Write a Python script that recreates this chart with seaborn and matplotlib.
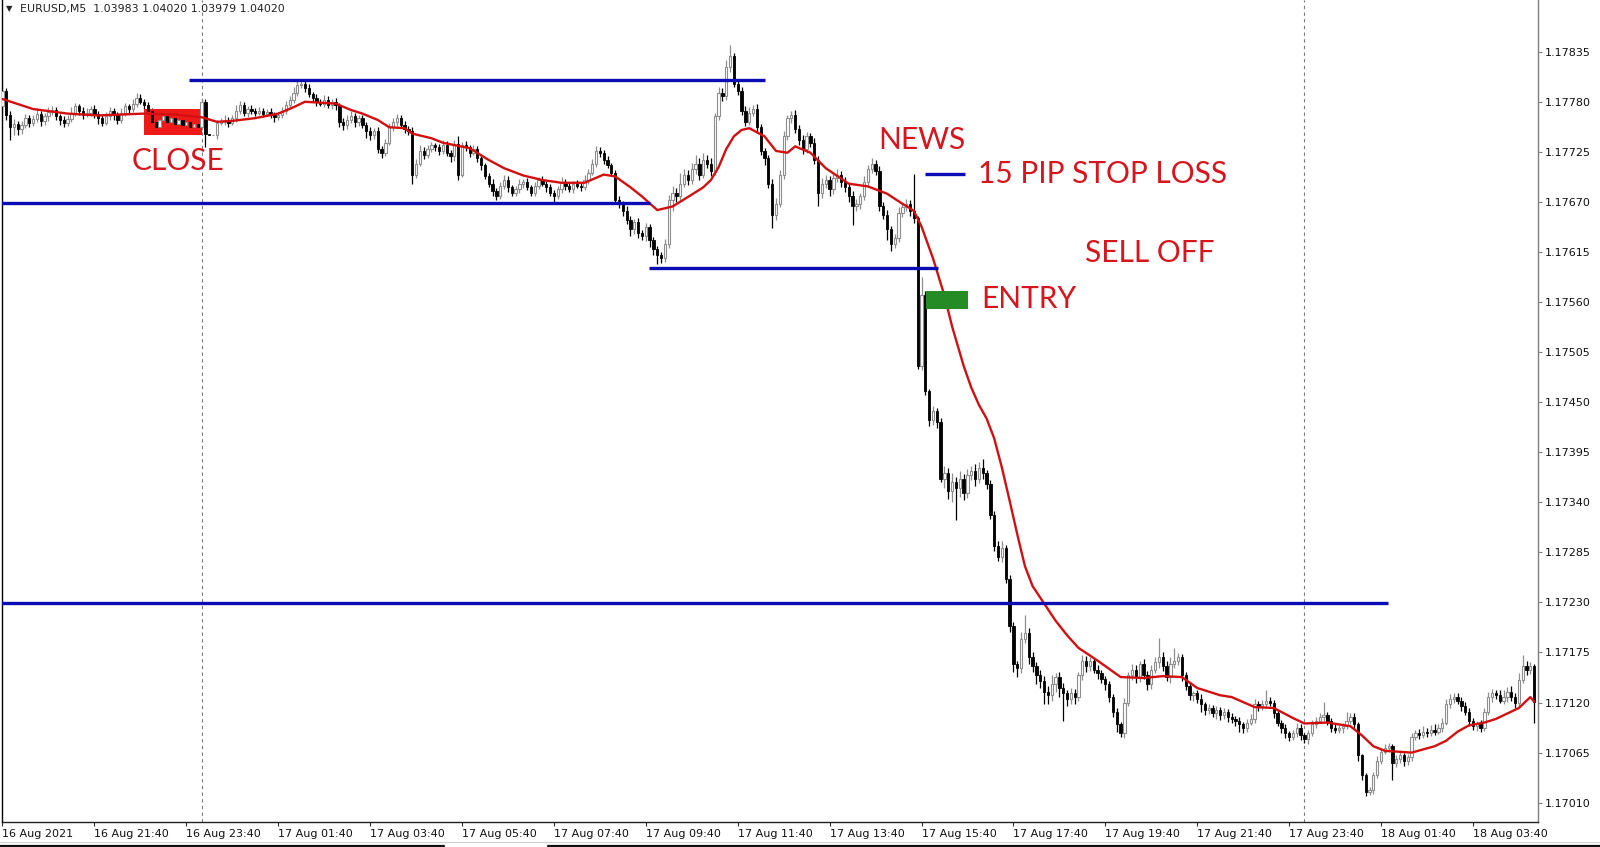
import numpy as np
import matplotlib
matplotlib.use("Agg")
import matplotlib.pyplot as plt
from matplotlib.lines import Line2D
from matplotlib.patches import Rectangle
import seaborn as sns

# ---------------- data (prices in points of 0.00001 above 1.17000) ----------------
BASE = 1.17000
PT = 0.00001
OPEN_FIRST = 775

CLOSE_PTS = [
    792, 766, 752, 756, 750, 755, 762, 757, 761, 767, 759, 764, 769, 771, 764, 760, 757, 761, 768, 775,
    770, 766, 768, 772, 767, 762, 757, 764, 770, 765, 760, 768, 775, 772, 778, 784, 780, 776, 770, 758,
    752, 760, 764, 758, 762, 756, 760, 754, 758, 752, 756, 752, 780, 745, 743, 743, 757, 758, 760, 757,
    762, 770, 776, 768, 772, 770, 768, 770, 767, 769, 766, 763, 766, 770, 776, 782, 790, 798, 800, 795,
    788, 784, 780, 778, 782, 776, 780, 776, 758, 754, 760, 764, 758, 762, 755, 748, 744, 748, 728, 724,
    735, 752, 758, 762, 755, 750, 748, 700, 712, 726, 722, 728, 732, 730, 726, 733, 724, 720, 734, 700,
    732, 730, 724, 728, 718, 710, 698, 690, 682, 676, 688, 694, 686, 680, 684, 690, 692, 686, 680, 688,
    694, 690, 686, 680, 676, 684, 692, 688, 684, 690, 688, 686, 694, 702, 712, 726, 724, 716, 710, 702,
    672, 668, 660, 650, 640, 648, 636, 632, 642, 628, 618, 612, 608, 624, 672, 680, 676, 690, 700, 694,
    706, 712, 700, 716, 712, 704, 764, 790, 786, 818, 830, 800, 792, 770, 758, 768, 772, 752, 726, 718,
    690, 656, 668, 700, 742, 762, 766, 750, 738, 728, 742, 735, 716, 680, 690, 694, 684, 696, 700, 692,
    686, 676, 665, 668, 676, 692, 706, 712, 704, 666, 656, 640, 624, 630, 658, 664, 668, 660, 652, 490,
    568, 462, 430, 440, 428, 366, 372, 352, 362, 356, 366, 350, 370, 374, 366, 378, 372, 360, 326, 292,
    280, 290, 256, 204, 162, 158, 190, 196, 170, 160, 150, 144, 132, 128, 140, 148, 136, 130, 124, 130,
    126, 150, 166, 160, 166, 156, 152, 146, 140, 126, 110, 96, 86, 120, 150, 156, 148, 162, 150, 140,
    156, 164, 170, 160, 148, 162, 166, 170, 150, 138, 128, 130, 124, 118, 112, 114, 108, 112, 106, 110,
    104, 102, 100, 96, 92, 98, 102, 118, 116, 118, 122, 120, 108, 98, 92, 86, 82, 86, 92, 84,
    80, 86, 96, 100, 104, 106, 100, 92, 90, 92, 94, 100, 104, 96, 62, 40, 22, 24, 40, 56,
    66, 70, 72, 54, 58, 62, 56, 60, 82, 86, 84, 88, 86, 90, 88, 92, 98, 118, 124, 126,
    122, 116, 110, 100, 94, 96, 92, 110, 126, 130, 128, 122, 126, 132, 126, 120, 145, 160, 156, 160,
    121,
]

UPPER_WICK_PTS = [
    11, 3, 4, 5, 3, 4, 5, 3, 4, 6, 3, 4, 5, 4, 3, 3, 4, 5, 6, 4,
    3, 4, 5, 3, 4, 3, 4, 5, 4, 3, 4, 5, 4, 3, 5, 6, 4, 3, 4, 3,
    3, 4, 3, 4, 3, 4, 3, 3, 4, 3, 4, 3, 4, 3, 0, 0, 3, 4, 5, 3,
    4, 6, 5, 4, 3, 4, 3, 4, 3, 3, 4, 3, 3, 4, 5, 4, 6, 5, 3, 4,
    4, 3, 4, 3, 5, 4, 3, 4, 3, 4, 5, 6, 4, 3, 4, 3, 4, 3, 4, 3,
    4, 5, 4, 5, 3, 4, 3, 4, 5, 6, 4, 5, 4, 3, 4, 5, 4, 3, 4, 8,
    4, 5, 3, 4, 3, 4, 3, 4, 5, 3, 4, 5, 4, 3, 4, 5, 3, 4, 3, 4,
    3, 4, 3, 4, 3, 4, 5, 3, 4, 3, 4, 3, 5, 4, 5, 5, 4, 3, 4, 3,
    3, 4, 3, 5, 4, 3, 4, 3, 5, 4, 3, 4, 3, 5, 6, 8, 5, 12, 6, 5,
    7, 10, 6, 8, 5, 6, 4, 6, 5, 8, 12, 4, 5, 4, 5, 6, 4, 5, 4, 3,
    4, 5, 6, 5, 6, 4, 4, 5, 4, 6, 5, 4, 5, 4, 6, 5, 4, 5, 6, 4,
    5, 4, 6, 5, 4, 6, 5, 6, 4, 5, 4, 5, 4, 5, 6, 5, 5, 4, 41, 3,
    20, 4, 3, 6, 4, 5, 8, 6, 10, 6, 8, 5, 7, 6, 8, 6, 10, 4, 5, 4,
    6, 8, 3, 4, 5, 4, 8, 20, 6, 5, 4, 6, 5, 6, 10, 5, 6, 5, 4, 6,
    5, 4, 6, 5, 4, 3, 5, 4, 3, 4, 3, 4, 3, 5, 4, 6, 5, 4, 6, 5,
    5, 6, 21, 5, 6, 8, 14, 4, 3, 4, 5, 3, 4, 5, 3, 4, 3, 4, 3, 4,
    3, 4, 3, 4, 3, 4, 5, 6, 4, 5, 12, 4, 3, 4, 3, 4, 3, 4, 5, 4,
    3, 4, 5, 4, 5, 15, 4, 3, 4, 3, 4, 10, 5, 4, 3, 2, 3, 3, 4, 5,
    4, 5, 4, 3, 4, 5, 3, 4, 5, 4, 5, 6, 4, 5, 6, 4, 5, 6, 5, 4,
    5, 4, 5, 4, 3, 4, 5, 4, 6, 5, 4, 6, 8, 5, 6, 5, 8, 12, 6, 5,
    2,
]

LOWER_WICK_PTS = [
    6, 6, 14, 8, 6, 5, 4, 5, 4, 3, 6, 4, 5, 3, 4, 6, 5, 4, 3, 4,
    4, 5, 3, 4, 5, 6, 4, 3, 4, 5, 4, 3, 4, 5, 3, 4, 3, 4, 5, 6,
    4, 3, 4, 5, 3, 4, 5, 3, 4, 3, 4, 5, 3, 15, 0, 0, 4, 3, 4, 5,
    3, 4, 3, 4, 5, 3, 4, 3, 4, 3, 4, 5, 3, 4, 3, 4, 3, 4, 3, 4,
    3, 4, 5, 3, 4, 3, 4, 5, 6, 5, 4, 3, 6, 5, 4, 8, 6, 5, 4, 6,
    4, 3, 4, 5, 3, 4, 5, 10, 4, 3, 5, 4, 3, 4, 5, 3, 4, 6, 5, 6,
    3, 4, 5, 3, 4, 5, 3, 4, 5, 4, 3, 4, 5, 4, 3, 4, 5, 3, 4, 3,
    4, 3, 5, 4, 6, 3, 4, 5, 3, 4, 3, 4, 3, 4, 3, 4, 5, 4, 3, 4,
    4, 5, 6, 4, 8, 5, 6, 4, 5, 8, 6, 10, 5, 4, 5, 12, 6, 5, 4, 5,
    4, 5, 6, 4, 5, 6, 4, 4, 5, 4, 5, 4, 5, 4, 5, 4, 4, 6, 5, 8,
    5, 15, 6, 4, 5, 4, 5, 4, 6, 5, 4, 5, 4, 15, 6, 5, 8, 5, 4, 6,
    5, 6, 20, 5, 6, 4, 5, 4, 5, 6, 5, 12, 8, 5, 4, 5, 4, 6, 5, 4,
    5, 4, 6, 5, 6, 4, 10, 8, 12, 35, 10, 8, 5, 6, 8, 5, 6, 5, 4, 5,
    4, 6, 5, 6, 8, 10, 6, 5, 8, 6, 10, 8, 14, 10, 6, 8, 10, 30, 8, 6,
    8, 4, 5, 6, 5, 4, 6, 5, 6, 5, 6, 8, 4, 5, 4, 5, 6, 5, 4, 6,
    5, 4, 6, 5, 4, 6, 4, 5, 6, 4, 5, 6, 4, 8, 6, 5, 4, 6, 5, 4,
    5, 4, 6, 8, 5, 4, 3, 4, 5, 4, 3, 4, 5, 4, 6, 5, 4, 3, 4, 5,
    4, 5, 3, 4, 3, 4, 5, 4, 3, 4, 5, 3, 4, 5, 6, 5, 5, 4, 4, 3,
    4, 3, 4, 19, 5, 4, 6, 5, 4, 3, 4, 3, 4, 3, 4, 3, 4, 3, 4, 5,
    4, 5, 4, 6, 4, 5, 4, 3, 4, 5, 4, 3, 4, 5, 4, 6, 5, 4, 6, 5,
    24,
]

# moving average (red line): bar index -> points
MA_BAR = [0, 8, 17, 25, 37, 45, 52, 56, 60, 66, 72, 76, 79, 87, 91, 94, 98, 101, 105, 107,
          112, 115, 122, 127, 131, 136, 141, 146, 152, 157, 160, 164, 167, 171, 175, 180, 183, 185, 187, 189,
          191, 193, 195, 199, 202, 205, 207, 211, 215, 221, 226, 231, 235, 237, 238, 240, 243, 246, 248, 251,
          253, 255, 257, 259, 261, 263, 265, 267, 269, 272, 275, 278, 281, 286, 292, 298, 303, 308, 312, 318,
          321, 327, 332, 337, 340, 346, 352, 355, 358, 361, 368, 374, 377, 380, 383, 387, 390, 396, 399, 400]
MA_PTS = [783, 772, 767, 765, 767, 766, 763, 758, 759, 762, 767, 774, 780, 778, 771, 767, 760, 752, 751, 745,
          740, 735, 729, 716, 707, 699, 694, 691, 691, 700, 698, 686, 676, 661, 665, 678, 686, 694, 708, 728,
          742, 749, 751, 742, 726, 724, 731, 724, 707, 690, 687, 679, 668, 663, 660, 643, 608, 567, 533, 490,
          466, 447, 432, 410, 378, 342, 305, 270, 248, 229, 210, 194, 180, 166, 148, 147, 149, 148, 136, 128,
          126, 115, 114, 103, 97, 98, 94, 84, 72, 67, 65, 72, 78, 88, 95, 98, 102, 114, 126, 121]

Y_TICKS = [1.17010, 1.17065, 1.17120, 1.17175, 1.17230, 1.17285, 1.17340, 1.17395,
           1.17450, 1.17505, 1.17560, 1.17615, 1.17670, 1.17725, 1.17780, 1.17835]
X_TICK_BARS = [0, 24, 48, 72, 96, 120, 144, 168, 192, 216, 240, 264, 288, 312, 336, 360, 384]
X_TICK_LABELS = ["16 Aug 2021", "16 Aug 21:40", "16 Aug 23:40", "17 Aug 01:40", "17 Aug 03:40",
                 "17 Aug 05:40", "17 Aug 07:40", "17 Aug 09:40", "17 Aug 11:40", "17 Aug 13:40",
                 "17 Aug 15:40", "17 Aug 17:40", "17 Aug 19:40", "17 Aug 21:40", "17 Aug 23:40",
                 "18 Aug 01:40", "18 Aug 03:40"]
DAY_SEPARATOR_BARS = [52, 340]
HEADER = "EURUSD,M5  1.03983 1.04020 1.03979 1.04020"

# hand-drawn annotations: (price level, first bar, last bar)
BLUE_LEVELS = [(1.17804, 48.7, 199.1), (1.17669, -1.0, 169.2), (1.17597, 168.8, 244.2),
               (1.17701, 241.0, 251.4), (1.17229, -1.0, 361.8)]
CLOSE_BOX = (36.9, 52.0, 1.17743, 1.17772)
ENTRY_BOX = (241.2, 252.1, 1.17552, 1.17572)
LABELS = [("CLOSE", 45.8, 1.17715, "center"), ("NEWS", 240.2, 1.17738, "center"),
          ("15 PIP STOP LOSS", 254.7, 1.17701, "left"), ("SELL OFF", 282.6, 1.17614, "left"),
          ("ENTRY", 255.5, 1.17563, "left")]

# ---------------- build OHLC ----------------
close = BASE + np.array(CLOSE_PTS, dtype=float) * PT
opn = np.empty_like(close)
opn[0] = BASE + OPEN_FIRST * PT
opn[1:] = close[:-1]
high = np.maximum(opn, close) + np.array(UPPER_WICK_PTS) * PT
low = np.minimum(opn, close) - np.array(LOWER_WICK_PTS) * PT
bars = np.arange(len(close))

# ---------------- figure ----------------
sns.set_theme(style="white")
plt.rcParams["font.family"] = ["DejaVu Sans"]

W, H = 1600, 847
fig = plt.figure(figsize=(W / 100, H / 100), dpi=100, facecolor="white")
ax_bottom_px = 821.7
ax = fig.add_axes([2 / W, (H - ax_bottom_px) / H, (1538 - 2) / W, ax_bottom_px / H])
ax.set_facecolor("white")
ax.set_xlim(-0.13, 401.0)
ax.set_ylim(BASE - 10.9 * PT, BASE + 891.8 * PT)

# day separators
for b in DAY_SEPARATOR_BARS:
    ax.axvline(b, color="#7a7a7a", lw=0.8, ls=(0, (3, 3)), zorder=1)

# candles
up = close >= opn
body_bottom = np.minimum(opn, close)
body_h = np.maximum(np.abs(close - opn), 0.5 * PT)
ax.vlines(bars[up], low[up], high[up], color="#8e8e8e", lw=0.9, zorder=2)
ax.vlines(bars[~up], low[~up], high[~up], color="black", lw=0.9, zorder=2)
ax.bar(bars[up], body_h[up], bottom=body_bottom[up], width=0.6, color="white",
       edgecolor="#8e8e8e", linewidth=0.8, zorder=3)
ax.bar(bars[~up], body_h[~up], bottom=body_bottom[~up], width=0.6, color="black",
       edgecolor="black", linewidth=0.6, zorder=3)

# moving average
ma_price = BASE + np.array(MA_PTS, dtype=float) * PT
sns.lineplot(x=MA_BAR, y=ma_price, ax=ax, color="#d40f0f", lw=1.7, zorder=4, legend=False)

# annotation boxes
x0, x1, y0, y1 = CLOSE_BOX
ax.add_patch(Rectangle((x0, y0), x1 - x0, y1 - y0, color="#ee1a1a", zorder=2.5, lw=0))
x0, x1, y0, y1 = ENTRY_BOX
ax.add_patch(Rectangle((x0, y0), x1 - x0, y1 - y0, color="#258c25", zorder=5, lw=0))

# blue levels
for lvl, b0, b1 in BLUE_LEVELS:
    ax.plot([b0, b1], [lvl, lvl], color="#0c0cb4", lw=2.4, solid_capstyle="butt", zorder=6)

# labels
for txt, bx, py, ha in LABELS:
    ax.text(bx, py, txt, ha=ha, va="center", fontsize=21.5, color="#d8141c",
            family=["Lato", "DejaVu Sans"], zorder=7)

# axes styling
ax.spines["top"].set_visible(False)
ax.spines["left"].set_color("black")
ax.spines["left"].set_linewidth(1.0)
ax.spines["bottom"].set_color("#202020")
ax.spines["bottom"].set_linewidth(1.0)
ax.spines["right"].set_color("#808080")
ax.spines["right"].set_linewidth(1.0)

ax.yaxis.tick_right()
ax.set_yticks(Y_TICKS)
ax.set_yticklabels([f"{v:.5f}" for v in Y_TICKS])
ax.tick_params(axis="y", which="both", direction="out", length=3, width=0.8,
               color="#808080", labelsize=8, pad=2, labelcolor="#111111", left=False, right=True)
ax.set_xticks(X_TICK_BARS)
ax.set_xticklabels(X_TICK_LABELS, ha="left")
ax.tick_params(axis="x", which="both", direction="out", length=3, width=0.8,
               color="#303030", labelsize=8, pad=2, labelcolor="#111111", bottom=True)
ax.set_xlabel("")
ax.set_ylabel("")
ax.grid(False)

# header
fig.text(6 / W, 1 - 9 / H, "\u25bc", fontsize=6, va="center", ha="left", color="#222222")
fig.text(19.5 / W, 1 - 9 / H, HEADER, fontsize=7.95, va="center", ha="left", color="#222222")

# bottom status strip
fig.add_artist(Line2D([0, 1], [1 - 841.5 / H] * 2, color="#d0d0d0", lw=0.8))
fig.add_artist(Line2D([0, 444 / W], [1 - 845.5 / H] * 2, color="#111111", lw=1.6))
fig.add_artist(Line2D([548 / W, 1], [1 - 845.5 / H] * 2, color="#111111", lw=1.6))

fig.savefig("out.png", dpi=100, facecolor="white")
